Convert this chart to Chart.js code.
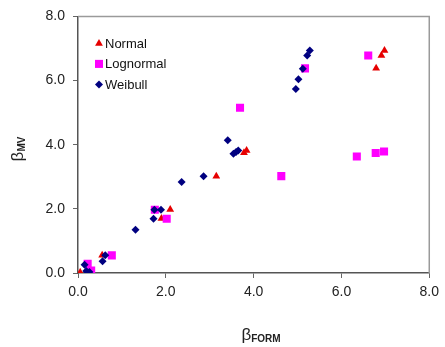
<!DOCTYPE html>
<html>
<head>
<meta charset="utf-8">
<script src="https://cdn.jsdelivr.net/npm/chart.js@4.4.0/dist/chart.umd.min.js"></script>
<style>
	html, body { margin: 0; padding: 0; background: #fff; }
	#wrap { width: 445px; height: 347px; }
</style>
</head>
<body>
<div id="wrap"><canvas id="betaChart"></canvas></div>
<script>
// dane
const normalX = [0.05, 0.55, 1.9, 2.1, 3.15, 3.78, 3.84, 6.79, 6.91, 6.98];
const normalY = [0.02, 0.55, 1.7, 1.98, 3.02, 3.75, 3.82, 6.38, 6.78, 6.94];

const lognormalX = [0.22, 0.3, 0.77, 1.75, 2.02, 3.69, 4.63, 5.17, 6.35, 6.61, 6.78, 6.97];
const lognormalY = [0.29, 0.08, 0.55, 1.97, 1.69, 5.15, 3.02, 6.38, 3.63, 6.78, 3.74, 3.79];

const weibullX = [0.15, 0.19, 0.26, 0.56, 0.62, 1.31, 1.72, 1.74, 1.89, 2.36, 2.86, 3.41, 3.54, 3.6, 3.65, 4.96, 5.02, 5.12, 5.22, 5.28];
const weibullY = [0.26, 0.06, 0.03, 0.37, 0.55, 1.35, 1.69, 1.97, 1.97, 2.84, 3.02, 4.14, 3.72, 3.77, 3.82, 5.74, 6.04, 6.37, 6.78, 6.94];

const seriesNames = ['Normal', 'Lognormal', 'Weibull'];
const axisMin = 0;
const axisMax = 8;
const axisStep = 2;

const FONT = "'Liberation Sans', Arial, sans-serif";

function toPoints(xs, ys) {
	return xs.map((x, i) => ({ x, y: ys[i] }));
}

// legenda wewnątrz obszaru wykresu
const insideLegend = {
	id: 'insideLegend',
	afterDraw(chart) {
		const ctx = chart.ctx;
		const left = chart.chartArea.left + 21;
		let y = chart.chartArea.top + 27;
		ctx.save();
		ctx.font = '13px ' + FONT;
		ctx.textBaseline = 'middle';
		chart.data.datasets.forEach((ds) => {
			ctx.fillStyle = ds.backgroundColor;
			ctx.strokeStyle = ds.borderColor;
			ctx.lineWidth = 1;
			Chart.helpers.drawPoint(ctx, {
				pointStyle: ds.pointStyle,
				radius: ds.legendRadius,
				borderWidth: 0,
				rotation: 0,
			}, left, y);
			ctx.fillStyle = '#111';
			ctx.fillText(ds.label, left + 6, y + 1);
			y += 20.5;
		});
		ctx.restore();
	},
};

// ramka + tytuły osi z indeksem dolnym
const frameAndTitles = {
	id: 'frameAndTitles',
	beforeDatasetsDraw(chart) {
		const { left, right, top, bottom } = chart.chartArea;
		const ctx = chart.ctx;
		ctx.save();
		ctx.strokeStyle = '#9a9a9a';
		ctx.lineWidth = 1.5;
		ctx.beginPath();
		ctx.moveTo(left, top);
		ctx.lineTo(right, top);
		ctx.lineTo(right, bottom);
		ctx.stroke();
		ctx.restore();
	},
	afterDraw(chart) {
		const ctx = chart.ctx;
		const big = '17px ' + FONT;
		const small = 'bold 10px ' + FONT;

		ctx.save();
		ctx.fillStyle = '#222';
		ctx.textBaseline = 'alphabetic';

		// oś X: βFORM
		ctx.font = big;
		const bw = ctx.measureText('β').width;
		ctx.font = small;
		const fw = ctx.measureText('FORM').width;
		let x0 = 261 - (bw + fw) / 2;
		ctx.font = big;
		ctx.fillText('β', x0, 340);
		ctx.font = small;
		ctx.fillText('FORM', x0 + bw, 342);

		// oś Y: βMV (obrócone)
		ctx.translate(23, 149);
		ctx.rotate(-Math.PI / 2);
		ctx.font = small;
		const mw = ctx.measureText('MV').width;
		x0 = -(bw + mw) / 2;
		ctx.font = big;
		ctx.fillText('β', x0, 0);
		ctx.font = small;
		ctx.fillText('MV', x0 + bw, 2);
		ctx.restore();
	},
};

const ctx = document.getElementById('betaChart').getContext('2d');

const chart = new Chart(ctx, {
	type: 'scatter',
	data: {
		datasets: [
			{
				label: seriesNames[0],
				data: toPoints(normalX, normalY),
				pointStyle: 'triangle',
				pointRadius: 4.5,
				legendRadius: 4.5,
				backgroundColor: '#e60000',
				borderColor: '#e60000',
				borderWidth: 0,
				order: 3,
			},
			{
				label: seriesNames[1],
				data: toPoints(lognormalX, lognormalY),
				pointStyle: 'rect',
				pointRadius: 5.7,
				legendRadius: 5.7,
				backgroundColor: '#ff00ff',
				borderColor: '#ff00ff',
				borderWidth: 0,
				order: 2,
			},
			{
				label: seriesNames[2],
				data: toPoints(weibullX, weibullY),
				pointStyle: 'rectRot',
				pointRadius: 4,
				legendRadius: 4,
				backgroundColor: '#000080',
				borderColor: '#000080',
				borderWidth: 0,
				order: 1,
			},
		],
	},
	options: {
		responsive: true,
		maintainAspectRatio: false,
		animation: false,
		layout: {
			padding: { top: 16, right: 11, left: 0, bottom: 0 },
		},
		plugins: {
			legend: { display: false },
			tooltip: { enabled: false },
		},
		scales: {
			x: {
				type: 'linear',
				min: axisMin,
				max: axisMax,
				afterFit: (scale) => { scale.height = 74; },
				ticks: {
					stepSize: axisStep,
					color: '#222',
					font: { family: FONT, size: 14 },
					padding: 6,
					maxRotation: 0,
					callback: (v) => v.toFixed(1),
				},
				grid: {
					drawOnChartArea: false,
					drawTicks: true,
					tickLength: 5,
					color: '#666',
				},
				border: { color: '#555', width: 1.5 },
			},
			y: {
				type: 'linear',
				min: axisMin,
				max: axisMax,
				afterFit: (scale) => { scale.width = 78; },
				ticks: {
					stepSize: axisStep,
					color: '#222',
					font: { family: FONT, size: 14 },
					padding: 8,
					callback: (v) => v.toFixed(1),
				},
				grid: {
					drawOnChartArea: false,
					drawTicks: true,
					tickLength: 5,
					color: '#666',
				},
				border: { color: '#555', width: 1.5 },
			},
		},
	},
	plugins: [frameAndTitles, insideLegend],
});
</script>
</body>
</html>
